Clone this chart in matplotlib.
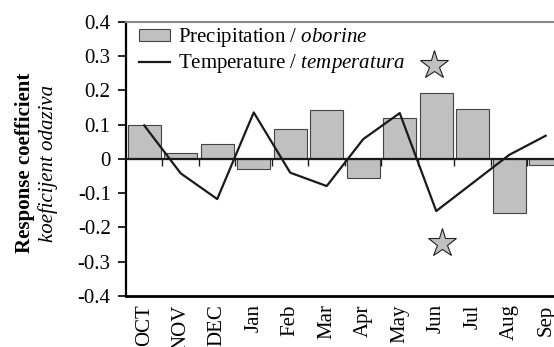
import numpy as np
import matplotlib.pyplot as plt

plt.rcParams['font.family'] = 'Liberation Serif'
plt.rcParams['mathtext.fontset'] = 'custom'
plt.rcParams['mathtext.rm'] = 'Liberation Serif'
plt.rcParams['mathtext.it'] = 'Liberation Serif:italic'

months = ['OCT', 'NOV', 'DEC', 'Jan', 'Feb', 'Mar', 'Apr', 'May', 'Jun', 'Jul', 'Aug', 'Sep']
precip = [0.098, 0.017, 0.044, -0.030, 0.088, 0.143, -0.055, 0.120, 0.193, 0.146, -0.157, -0.017]
temp = [0.098, -0.042, -0.117, 0.136, -0.040, -0.079, 0.058, 0.134, -0.152, -0.070, 0.012, 0.068]

# significance stars (month index, value)
star_x = [7.95, 8.15]
star_y = [0.274, -0.245]

fig = plt.figure(figsize=(5.54, 3.47), dpi=100)
ax = fig.add_axes([0.2274, 0.147, 0.7906, 0.7896])

x = np.arange(len(months))
bars = ax.bar(x, precip, width=0.9, color='#c0c0c0', edgecolor='#444444', linewidth=0.8, zorder=2)
line, = ax.plot(x, temp, color='#1a1a1a', lw=1.6, zorder=3)
ax.plot(star_x, star_y, ls='none', marker='*', ms=21, mfc='#c0c0c0', mec='#222222', mew=0.8, zorder=4)

ax.axhline(0, color='#1a1a1a', lw=1.6, zorder=3)
# boundary ticks hanging off the zero line
ax.vlines(x[:-1] + 0.5, -0.02, 0, color='#1a1a1a', lw=1.0, zorder=3)

ax.set_xlim(-0.5, 11.5)
ax.set_ylim(-0.4, 0.4)
ax.set_yticks(np.arange(-0.4, 0.41, 0.1))
ax.set_yticklabels(['-0.4', '-0.3', '-0.2', '-0.1', '0', '0.1', '0.2', '0.3', '0.4'])
ax.set_xticks(x)
ax.set_xticklabels(months, rotation=90)
ax.tick_params(axis='x', length=0, pad=6, labelsize=15)
ax.tick_params(axis='y', length=6, width=1.2, direction='out', labelsize=15, pad=5)

ax.spines['left'].set_linewidth(1.6)
ax.spines['bottom'].set_linewidth(2.0)
ax.spines['top'].set_color('#888888')
ax.spines['top'].set_linewidth(1.5)
ax.spines['right'].set_visible(False)

fig.text(0.045, 0.53, 'Response coefficient', rotation=90, ha='center', va='center',
         fontsize=15, fontweight='bold')
fig.text(0.087, 0.53, 'koeficijent odaziva', rotation=90, ha='center', va='center',
         fontsize=15, style='italic')

ax.legend([bars, line], ['Precipitation / $\\it{oborine}$', 'Temperature / $\\it{temperatura}$'],
          loc='upper left', bbox_to_anchor=(0.02, 1.0), frameon=False, fontsize=15,
          handlelength=1.5, handleheight=0.5, labelspacing=0.15, borderaxespad=0.0,
          borderpad=0.2, handletextpad=0.4)

fig.savefig('out.png', dpi=100)
